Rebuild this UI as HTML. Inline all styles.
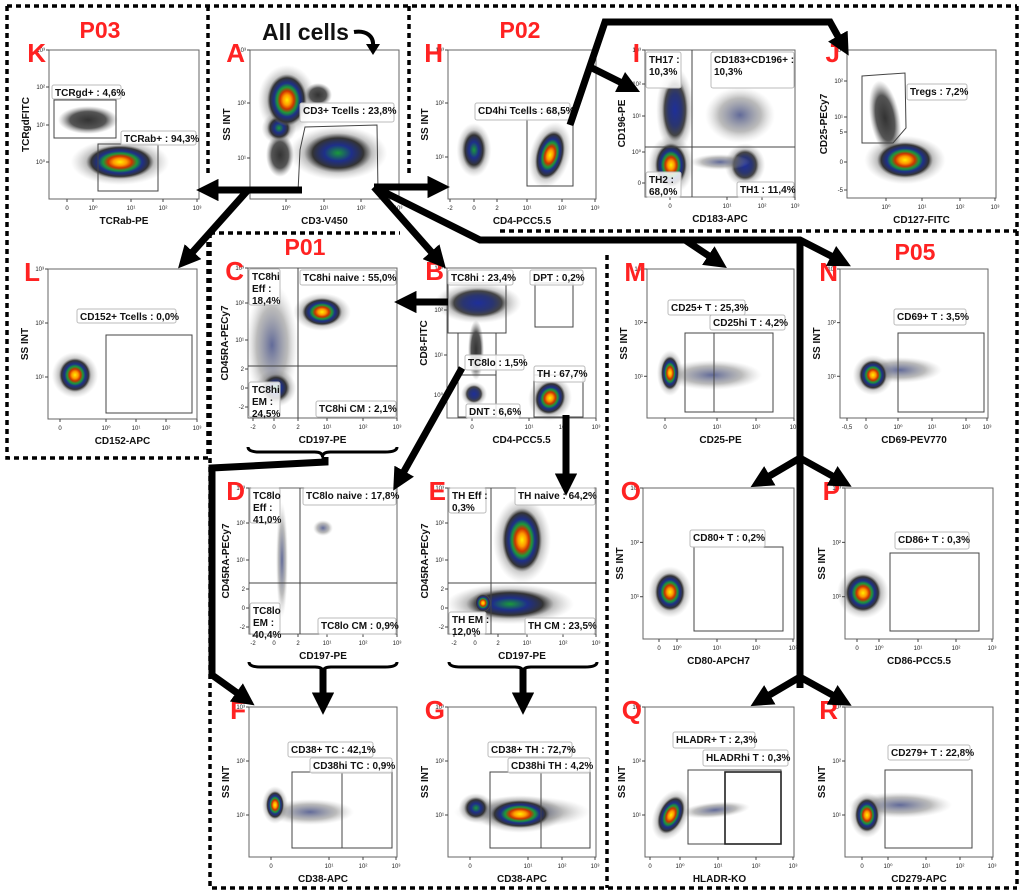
<!DOCTYPE html>
<html><head><meta charset="utf-8"><style>
html,body{margin:0;padding:0;background:#fff;}
svg{display:block;font-family:"Liberation Sans",Arial,sans-serif;}
.t{font-size:6px;fill:#222;}
.ax{font-size:10px;font-weight:bold;fill:#111;}
.gl{font-size:10px;font-weight:bold;fill:#111;}
.let{font-size:26px;font-weight:bold;fill:#f22;}
.pp{font-size:23px;font-weight:bold;fill:#f22;}
</style></head><body>
<svg id="s" width="1024" height="895" viewBox="0 0 1024 895" xmlns="http://www.w3.org/2000/svg">
<defs>
<radialGradient id="hot"><stop offset="0" stop-color="#ffee00"/><stop offset="0.2" stop-color="#ff9900"/><stop offset="0.35" stop-color="#cc3300"/><stop offset="0.5" stop-color="#1a9a3a"/><stop offset="0.65" stop-color="#1e2f8a"/><stop offset="0.85" stop-color="#333"/><stop offset="1" stop-color="#777" stop-opacity="0"/></radialGradient>
<radialGradient id="grn"><stop offset="0" stop-color="#1a9a3a"/><stop offset="0.4" stop-color="#1e2f8a"/><stop offset="0.75" stop-color="#333"/><stop offset="1" stop-color="#777" stop-opacity="0"/></radialGradient>
<radialGradient id="blu"><stop offset="0" stop-color="#1e2f9a"/><stop offset="0.5" stop-color="#2a3570"/><stop offset="0.8" stop-color="#444"/><stop offset="1" stop-color="#888" stop-opacity="0"/></radialGradient>
<radialGradient id="gry"><stop offset="0" stop-color="#333"/><stop offset="0.6" stop-color="#555"/><stop offset="1" stop-color="#999" stop-opacity="0"/></radialGradient>
<radialGradient id="halo"><stop offset="0" stop-color="#444" stop-opacity="0.8"/><stop offset="0.6" stop-color="#666" stop-opacity="0.6"/><stop offset="1" stop-color="#aaa" stop-opacity="0"/></radialGradient>
<radialGradient id="spr"><stop offset="0" stop-color="#3a4580" stop-opacity="0.8"/><stop offset="0.6" stop-color="#777" stop-opacity="0.5"/><stop offset="1" stop-color="#bbb" stop-opacity="0"/></radialGradient>
<marker id="ah" viewBox="0 0 10 10" refX="2" refY="5" markerWidth="3.2" markerHeight="3.2" orient="auto" markerUnits="strokeWidth"><path d="M0,0 L10,5 L0,10 z" fill="#000"/></marker>
</defs>
<g id="g"></g>
</svg>
<script>
var S='';
function R(x,y,w,h,st){S+='<rect x="'+x+'" y="'+y+'" width="'+w+'" height="'+h+'" fill="none" stroke="'+(st||'#555')+'" stroke-width="1"/>';}
function T(x,y,t,c,a,extra){S+='<text x="'+x+'" y="'+y+'" class="'+c+'"'+(a?' text-anchor="'+a+'"':'')+(extra||'')+'>'+t+'</text>';}
function L(x1,y1,x2,y2,st,w){S+='<line x1="'+x1+'" y1="'+y1+'" x2="'+x2+'" y2="'+y2+'" stroke="'+(st||'#555')+'" stroke-width="'+(w||1)+'"/>';}
function E(cx,cy,rx,ry,g,rot){S+='<ellipse cx="'+cx+'" cy="'+cy+'" rx="'+rx+'" ry="'+ry+'" fill="url(#'+g+')"'+(rot?' transform="rotate('+rot+' '+cx+' '+cy+')"':'')+'/>';}
function B(x1,y1,x2,y2,lines){S+='<rect x="'+x1+'" y="'+y1+'" width="'+(x2-x1)+'" height="'+(y2-y1)+'" rx="2" fill="#fff" fill-opacity="0.85" stroke="#bbb" stroke-width="1"/>';
 for(var i=0;i<lines.length;i++)T(x1+3,y1+11+i*12,lines[i],'gl');}
function P(o){var x=o.x,y=o.y,w=o.w,h=o.h;
 (o.blobs||[]).forEach(function(b){if(b[4]=='hot'||b[4]=='grn'||b[4]=='blu')E(b[0],b[1],b[2]*1.45,b[3]*1.35,'halo',b[5]);});
 (o.blobs||[]).forEach(function(b){E.apply(null,b);});
 R(x,y,w,h,'#666');
 (o.xt||[]).forEach(function(t){L(t[0],y+h,t[0],y+h+3,'#444');T(t[0],y+h+11,t[1],'t','middle');});
 (o.yt||[]).forEach(function(t){L(x-3,t[0],x,t[0],'#444');T(x-4,t[0]+2,t[1],'t','end');});
 T(x+w/2,y+h+25,o.xl,'ax','middle');
 var yx=x-20,yy=y+h/2;T(yx,yy,o.yl,'ax','middle',' transform="rotate(-90 '+yx+' '+yy+')"');
 T(o.lx,y+12,o.L,'let','end');
 (o.g||[]).forEach(function(r){R(r[0],r[1],r[2]-r[0],r[3]-r[1],r[4]||'#444');});
 (o.ln||[]).forEach(function(l){L(l[0],l[1],l[2],l[3],'#444');});
 (o.lb||[]).forEach(function(b){B(b[0],b[1],b[2],b[3],b[4]);});
}
function yl(y,h){return [[y,'10³'],[y+h*0.36,'10²'],[y+h*0.72,'10¹']];}
var SS='SS INT';
P({x:49,y:50,w:150,h:149,L:'K',lx:46,xl:'TCRab-PE',yl:'TCRgdFITC',
 xt:[[67,'0'],[93,'10⁰'],[131,'10¹'],[163,'10²'],[197,'10³']],yt:[[50,'10³'],[87,'10²'],[125,'10¹'],[162,'10⁰']],
 blobs:[[88,120,30,14,'gry'],[120,162,34,17,'hot']],
 g:[[54,100,116,138],[98,144,158,191]],
 lb:[[52,85,121,99,['TCRgd+ : 4,6%']],[121,131,196,145,['TCRab+ : 94,3%']]]});
P({x:250,y:50,w:149,h:149,L:'A',lx:245,xl:'CD3-V450',yl:SS,
 xt:[[286,'10⁰'],[324,'10¹'],[361,'10²'],[398,'10³']],yt:[[50,'10³'],[103,'10²'],[158,'10¹']],
 blobs:[[318,95,14,12,'gry'],[280,155,14,22,'gry'],[279,128,12,12,'grn'],[287,100,20,26,'hot'],[338,153,34,20,'grn']]});
S+='<polyline points="298,192 300,150 305,127 377,125 378,192" fill="none" stroke="#444" stroke-width="1"/>';
B(300,103,394,122,['CD3+ Tcells : 23,8%']);
P({x:448,y:50,w:148,h:149,L:'H',lx:443,xl:'CD4-PCC5.5',yl:SS,
 xt:[[450,'-2'],[474,'0'],[497,'2'],[527,'10¹'],[562,'10²'],[595,'10³']],yt:[[50,'10³'],[103,'10²'],[157,'10¹']],
 blobs:[[474,150,12,20,'grn'],[550,155,14,25,'hot',15]],
 g:[[527,112,573,186]],lb:[[475,103,570,120,['CD4hi Tcells : 68,5%']]]});
P({x:645,y:50,w:150,h:147,L:'I',lx:640,xl:'CD183-APC',yl:'CD196-PE',
 xt:[[670,'0'],[727,'10¹'],[762,'10²'],[795,'10³']],yt:[[50,'10³'],[84,'10²'],[116,'10¹'],[152,'10⁰'],[183,'0']],
 blobs:[[740,115,35,28,'spr'],[675,110,13,32,'blu'],[745,165,14,16,'blu'],[720,162,30,8,'spr'],[671,165,16,22,'hot']],
 ln:[[692,50,692,197],[645,147,795,147]],
 lb:[[646,52,681,88,['TH17 :','10,3%']],[711,52,794,88,['CD183+CD196+ :','10,3%']],[646,172,681,197,['TH2 :','68,0%']],[737,182,794,197,['TH1 : 11,4%']]]});
P({x:847,y:50,w:149,h:148,L:'J',lx:840,xl:'CD127-FITC',yl:'CD25-PECy7',
 xt:[[886,'10⁰'],[922,'10¹'],[960,'10²'],[995,'10³']],yt:[[50,'10³'],[81,'10²'],[117,'10¹'],[132,'5'],[162,'0'],[190,'-5']],
 blobs:[[885,118,15,38,'gry',-10],[905,160,28,18,'hot']]});
S+='<polygon points="862,76 905,73 906,128 893,143 862,143" fill="none" stroke="#444"/>';
B(907,84,967,100,['Tregs : 7,2%']);
P({x:48,y:269,w:149,h:150,L:'L',lx:40,xl:'CD152-APC',yl:SS,
 xt:[[60,'0'],[106,'10⁰'],[136,'10¹'],[166,'10²'],[197,'10³']],yt:[[269,'10³'],[323,'10²'],[377,'10¹']],
 blobs:[[75,375,16,17,'hot']],g:[[106,335,192,413]],lb:[[77,309,176,323,['CD152+ Tcells : 0,0%']]]});
var cx=[[253,'-2'],[274,'0'],[298,'2'],[327,'10¹'],[363,'10²'],[397,'10³']],cy=function(y){return [[y,'10³'],[y+35,'10²'],[y+72,'10¹'],[y+101,'2'],[y+120,'0'],[y+139,'-2']];};
P({x:248,y:268,w:149,h:150,L:'C',lx:244,xl:'CD197-PE',yl:'CD45RA-PECy7',xt:cx,yt:cy(268),
 blobs:[[272,345,26,62,'spr'],[276,388,14,14,'grn'],[322,312,20,14,'hot']],
 ln:[[298,268,298,418],[248,366,397,366]],
 lb:[[249,269,280,305,['TC8hi','Eff :','18,4%']],[300,270,396,285,['TC8hi naive : 55,0%']],[249,382,280,417,['TC8hi','EM :','24,5%']],[316,401,396,417,['TC8hi CM : 2,1%']]]});
P({x:447,y:268,w:149,h:150,L:'B',lx:444,xl:'CD4-PCC5.5',yl:'CD8-FITC',
 xt:[[472,'0'],[529,'10¹'],[563,'10²'],[596,'10³']],yt:[[268,'10³'],[310,'10²'],[355,'10¹'],[395,'10⁰']],
 blobs:[[476,350,8,30,'gry'],[478,303,30,15,'blu'],[474,394,9,9,'blu'],[550,398,15,17,'hot',25]],
 g:[[448,283,506,333],[458,333,496,375],[458,375,496,417],[535,283,573,327],[534,375,583,417]],
 lb:[[448,270,513,285,['TC8hi : 23,4%']],[530,270,583,285,['DPT : 0,2%']],[465,355,524,370,['TC8lo : 1,5%']],[534,366,585,382,['TH : 67,7%']],[466,404,520,418,['DNT : 6,6%']]]});
P({x:647,y:269,w:147,h:149,L:'M',lx:646,xl:'CD25-PE',yl:SS,
 xt:[[665,'0'],[717,'10¹'],[756,'10²'],[794,'10³']],yt:yl(269,149),
 blobs:[[712,375,50,15,'spr'],[670,373,9,17,'hot']],
 g:[[685,333,773,412]],ln:[[714,333,714,412]],
 lb:[[668,300,745,315,['CD25+ T : 25,3%']],[710,315,785,330,['CD25hi T : 4,2%']]]});
P({x:840,y:269,w:148,h:149,L:'N',lx:838,xl:'CD69-PEV770',yl:SS,
 xt:[[847,'-0,5'],[866,'0'],[898,'10⁰'],[932,'10¹'],[966,'10²'],[987,'10³']],yt:yl(269,149),
 blobs:[[900,370,42,13,'spr'],[873,375,14,15,'hot']],
 g:[[898,333,984,412]],lb:[[894,309,966,325,['CD69+ T : 3,5%']]]});
P({x:249,y:488,w:148,h:146,L:'D',lx:245,xl:'CD197-PE',yl:'CD45RA-PECy7',xt:cx,yt:cy(488),
 blobs:[[282,560,6,58,'spr'],[323,528,10,8,'spr']],
 ln:[[300,488,300,634],[249,583,397,583]],
 lb:[[250,488,280,523,['TC8lo','Eff :','41,0%']],[303,488,396,505,['TC8lo naive : 17,8%']],[250,603,280,634,['TC8lo','EM :','40,4%']],[318,618,396,634,['TC8lo CM : 0,9%']]]});
P({x:448,y:488,w:148,h:146,L:'E',lx:446,xl:'CD197-PE',yl:'CD45RA-PECy7',xt:[[454,'-2'],[475,'0'],[498,'2'],[527,'10¹'],[563,'10²'],[596,'10³']],yt:cy(488),
 blobs:[[510,604,44,15,'grn'],[522,540,20,32,'hot'],[483,603,8,9,'hot']],
 ln:[[491,488,491,634],[448,583,596,583]],
 lb:[[449,488,486,513,['TH Eff :','0,3%']],[515,488,595,505,['TH naive : 64,2%']],[449,612,486,634,['TH EM :','12,0%']],[525,618,595,634,['TH CM : 23,5%']]]});
P({x:249,y:707,w:148,h:150,L:'F',lx:246,xl:'CD38-APC',yl:SS,
 xt:[[271,'0'],[329,'10¹'],[363,'10²'],[396,'10³']],yt:yl(707,150),
 blobs:[[310,812,44,13,'spr'],[275,805,9,14,'hot']],
 g:[[292,772,392,848]],ln:[[342,772,342,848]],
 lb:[[288,742,373,757,['CD38+ TC : 42,1%']],[310,758,392,773,['CD38hi TC : 0,9%']]]});
P({x:448,y:707,w:148,h:150,L:'G',lx:445,xl:'CD38-APC',yl:SS,
 xt:[[470,'0'],[528,'10¹'],[562,'10²'],[595,'10³']],yt:yl(707,150),
 blobs:[[522,812,68,16,'spr'],[476,808,12,11,'grn'],[520,814,30,14,'hot']],
 g:[[490,772,590,848]],ln:[[541,772,541,848]],
 lb:[[488,742,572,757,['CD38+ TH : 72,7%']],[508,758,590,773,['CD38hi TH : 4,2%']]]});
P({x:643,y:488,w:151,h:151,L:'O',lx:641,xl:'CD80-APCH7',yl:SS,
 xt:[[659,'0'],[677,'10⁰'],[717,'10¹'],[756,'10²'],[793,'10³']],yt:yl(488,151),
 blobs:[[670,592,15,19,'hot']],g:[[694,547,783,631]],lb:[[690,530,765,547,['CD80+ T : 0,2%']]]});
P({x:845,y:488,w:148,h:151,L:'P',lx:840,xl:'CD86-PCC5.5',yl:SS,
 xt:[[857,'0'],[879,'10⁰'],[918,'10¹'],[956,'10²'],[992,'10³']],yt:yl(488,151),
 blobs:[[863,593,18,19,'hot']],g:[[890,553,979,631]],lb:[[895,532,969,549,['CD86+ T : 0,3%']]]});
P({x:645,y:707,w:149,h:150,L:'Q',lx:642,xl:'HLADR-KO',yl:SS,
 xt:[[650,'0'],[680,'10⁰'],[718,'10¹'],[756,'10²'],[793,'10³']],yt:yl(707,150),
 blobs:[[715,810,35,8,'spr',-5],[671,815,12,20,'hot',25]],
 g:[[688,770,781,844]],lb:[[673,732,755,748,['HLADR+ T : 2,3%']],[703,750,788,766,['HLADRhi T : 0,3%']]]});
S+='<rect x="725" y="772" width="56" height="72" fill="none" stroke="#222" stroke-width="1.6"/>';
P({x:845,y:707,w:148,h:150,L:'R',lx:838,xl:'CD279-APC',yl:SS,
 xt:[[862,'0'],[888,'10⁰'],[926,'10¹'],[960,'10²'],[992,'10³']],yt:yl(707,150),
 blobs:[[900,805,52,13,'spr'],[867,815,12,17,'hot']],
 g:[[885,770,972,848]],lb:[[888,745,970,760,['CD279+ T : 22,8%']]]});
T(100,38,'P03','pp','middle');T(305,255,'P01','pp','middle');T(520,38,'P02','pp','middle');T(915,260,'P05','pp','middle');
T(262,40,'All cells','ax','', ' style="font-size:23px"');
S+='<path d="M354,32 C366,30 374,36 373,46" fill="none" stroke="#000" stroke-width="4"/><path d="M366,44 L380,44 L373,55 z" fill="#000"/>';
var D=' fill="none" stroke="#000" stroke-width="3.5" stroke-dasharray="5,4"';
function DL(pts){S+='<polyline points="'+pts+'"'+D+'/>';}
DL('7,6 1017,6');DL('7,6 7,458 208,458');DL('208,6 208,173');DL('208,233 208,458');
DL('409,6 409,175');DL('500,231 1017,231');DL('1017,6 1017,888');
DL('210,233 400,233');DL('210,233 210,888 1017,888');DL('607,255 607,888');
function A(pts,head){S+='<polyline points="'+pts+'" fill="none" stroke="#000" stroke-width="7" stroke-linejoin="miter"'+(head===false?'':' marker-end="url(#ah)"')+'/>';}
A('302,190 214,190');A('248,190 190,255');A('374,187 432,187');A('374,187 434,255');
A('374,187 480,240 800,240 835,258');A('685,240 712,258');A('800,240 800,688',false);
A('800,458 766,478');A('800,458 836,478');A('800,677 766,697');A('800,677 836,697');
A('570,125 605,22 830,22 840,40');A('592,68 624,84');
A('448,302 412,302');A('462,368 402,475');A('566,415 566,478');
A('325,457 325,462 212,468 212,675 240,695');A('323,668 323,697');A('523,668 523,697');
function BR(x1,x2,y){var m=(x1+x2)/2;S+='<path d="M'+x1+','+(y-5)+' Q'+x1+','+y+' '+(x1+12)+','+y+' L'+(m-8)+','+y+' Q'+m+','+y+' '+m+','+(y+5)+' Q'+m+','+y+' '+(m+8)+','+y+' L'+(x2-12)+','+y+' Q'+x2+','+y+' '+x2+','+(y-5)+'" fill="none" stroke="#000" stroke-width="3"/>';}
BR(248,397,452);BR(249,397,667);BR(449,597,667);
document.getElementById('g').innerHTML=S;
</script>
</body></html>
